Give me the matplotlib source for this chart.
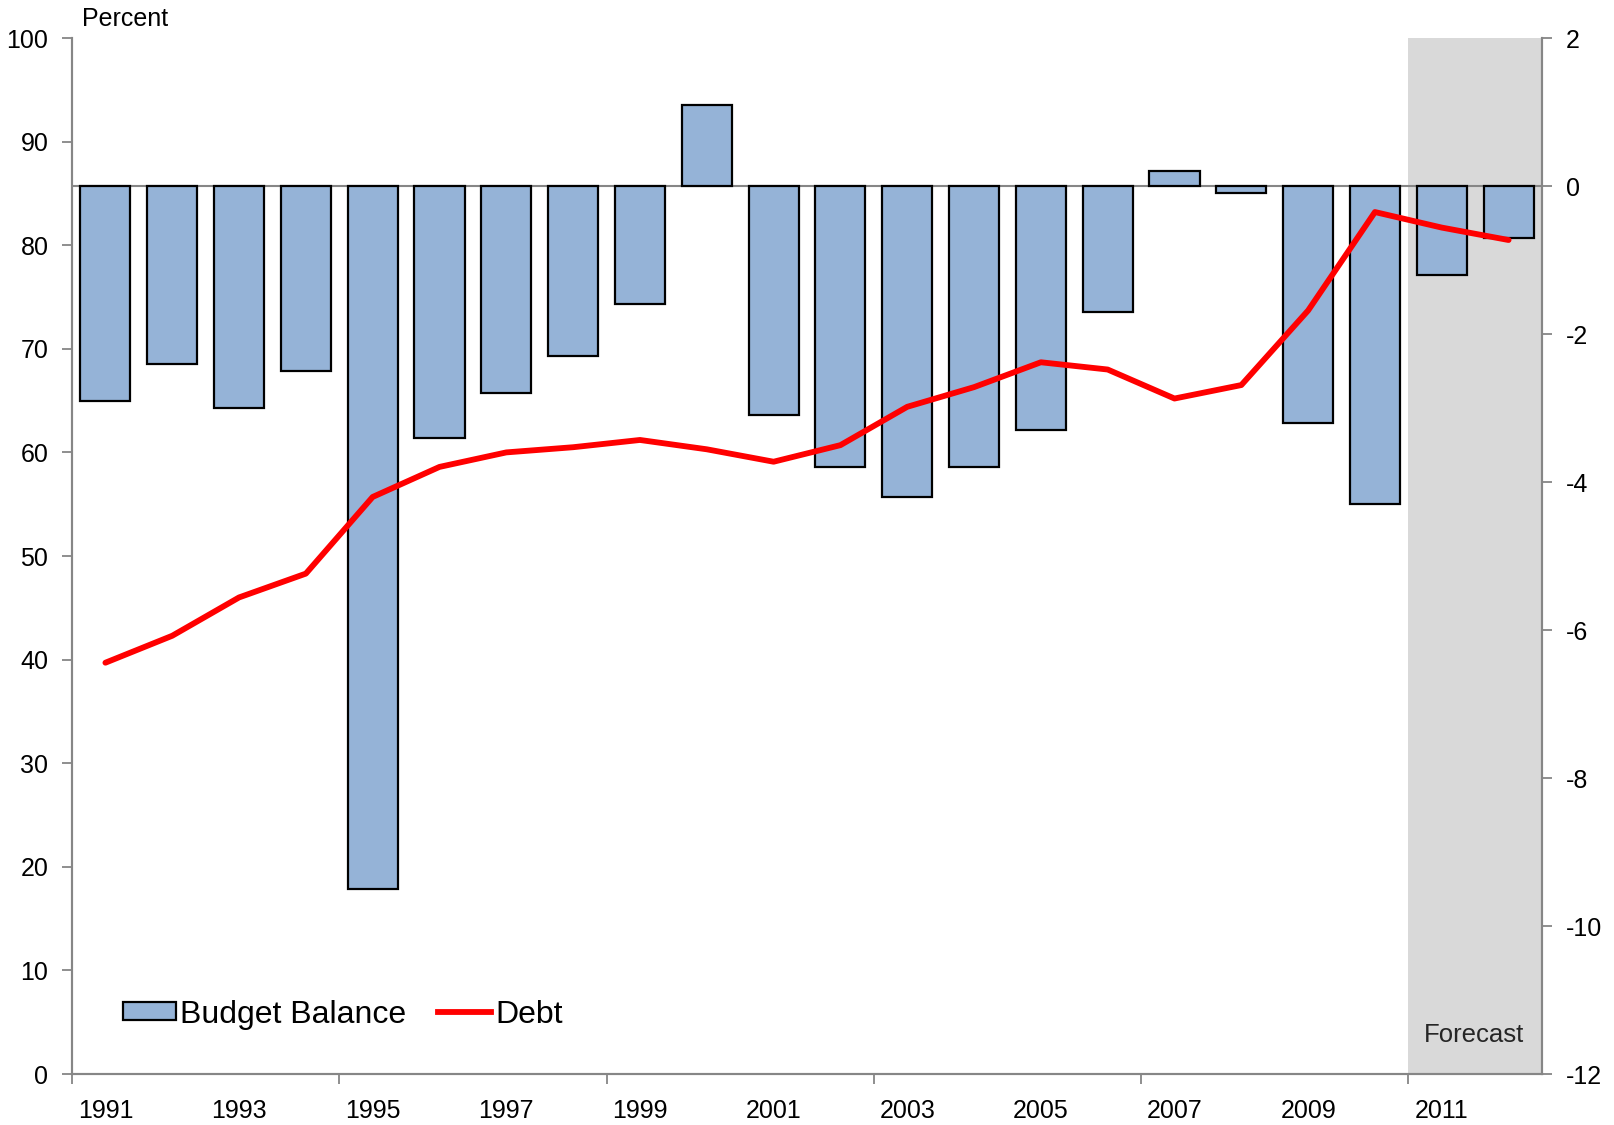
import matplotlib

matplotlib.use("Agg")

import matplotlib.pyplot as plt
from matplotlib.lines import Line2D
from matplotlib.patches import Patch

plt.rcParams["font.family"] = ["Liberation Sans", "DejaVu Sans"]
plt.rcParams["axes.unicode_minus"] = False

years = list(range(1991, 2013))
budget_balance = [
    -2.9, -2.4, -3.0, -2.5, -9.5, -3.4, -2.8, -2.3, -1.6, 1.1, -3.1,
    -3.8, -4.2, -3.8, -3.3, -1.7, 0.2, -0.1, -3.2, -4.3, -1.2, -0.7,
]
debt = [
    39.7, 42.3, 46.0, 48.3, 55.7, 58.6, 60.0, 60.5, 61.2, 60.3, 59.1,
    60.7, 64.4, 66.3, 68.7, 68.0, 65.2, 66.5, 73.7, 83.2, 81.7, 80.5,
]
forecast_years = [2011, 2012]

BAR_COLOR = "#95B3D7"
SHADE_COLOR = "#D9D9D9"
SPINE_COLOR = "#868686"
TICK_SIZE = 18

fig = plt.figure(figsize=(16.14, 11.25), dpi=100)
ax = fig.add_axes([72 / 1614, 1 - 1074 / 1125, 1470 / 1614, 1036 / 1125])
positions = list(range(len(years)))

# forecast shading
first_fc = years.index(forecast_years[0])
ax.axvspan(first_fc - 0.5, len(years) - 0.5, color=SHADE_COLOR, zorder=0, lw=0)
ax.text(first_fc + 0.48, -11.47, "Forecast", ha="center", va="center",
        fontsize=18.5, color="#262626")

ax.bar(positions, budget_balance, width=0.75, color=BAR_COLOR,
       edgecolor="black", linewidth=1.6, zorder=2)
ax.axhline(0, color=SPINE_COLOR, lw=1.5, zorder=1)

ax.set_xlim(-0.5, len(years) - 0.5)
ax.set_ylim(-12, 2)
ax.set_yticks(range(-12, 3, 2))

# x axis: ticks every 4 years on boundaries, labels on odd years
ax.set_xticks([p - 0.5 for p in positions[::4]])
ax.set_xticklabels([])
ax.set_xticks(positions[::2], minor=True)
ax.set_xticklabels([str(y) for y in years[::2]], minor=True)
ax.tick_params(axis="x", which="major", length=7, width=1.3, color=SPINE_COLOR,
               direction="out")
ax.tick_params(axis="x", which="minor", length=0, pad=18, labelsize=TICK_SIZE)

ax2 = ax.twinx()
ax2.plot(positions, debt, color="red", lw=4.2, solid_capstyle="round",
         solid_joinstyle="round", zorder=3)
ax2.set_ylim(0, 100)
ax2.set_yticks(range(0, 101, 10))

# balance on the right, debt on the left
ax.yaxis.tick_right()
ax2.yaxis.tick_left()
for a in (ax, ax2):
    a.tick_params(axis="y", length=7, width=1.3, color=SPINE_COLOR,
                  labelsize=TICK_SIZE, pad=10)
    a.spines["top"].set_visible(False)
    for side in ("left", "right", "bottom"):
        a.spines[side].set_color(SPINE_COLOR)
        a.spines[side].set_linewidth(1.5)

fig.text(82 / 1614, 1 - 19 / 1125, "Percent", fontsize=18, va="center")

handles = [
    Patch(facecolor=BAR_COLOR, edgecolor="black", linewidth=1.6,
          label="Budget Balance"),
    Line2D([], [], color="red", lw=4.2, label="Debt"),
]
ax2.legend(handles=handles, loc="lower left", bbox_to_anchor=(0.015, 0.015),
           ncol=2, frameon=False, fontsize=23, handlelength=1.65,
           handleheight=0.5, handletextpad=0.15, columnspacing=1.0)

fig.savefig("out.png", dpi=100)
